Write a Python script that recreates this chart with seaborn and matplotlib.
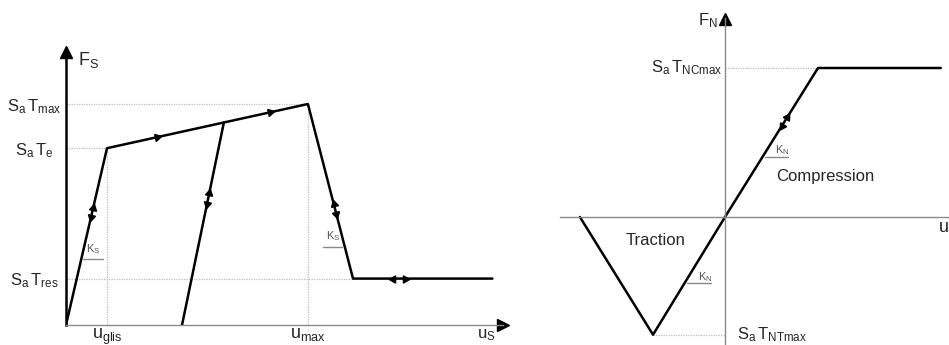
import numpy as np
import matplotlib
matplotlib.use("Agg")
import matplotlib.pyplot as plt
import seaborn as sns

# --- shear law (left), normalised so that S_a T_max = 1 ---
shear_u = [0.0, 1.0, 5.9, 7.0, 10.4]
shear_f = [0.0, 0.80, 1.0, 0.21, 0.21]
unload_u = [2.83, 3.85]
unload_f = [0.0, 0.916]
shear_levels = [1.0, 0.80, 0.21]
shear_level_labels = [r"$\mathrm{S_a\,T_{max}}$", r"$\mathrm{S_a\,T_e}$", r"$\mathrm{S_a\,T_{res}}$"]
shear_u_ticks = [1.0, 5.9]
shear_u_labels = [r"$\mathrm{u_{glis}}$", r"$\mathrm{u_{max}}$"]

# --- normal law (right), normalised so that S_a T_NCmax = 1 ---
normal_u = [-1.56, -0.774, 0.0, 1.0, 2.32]
normal_f = [0.0, -0.79, 0.0, 1.0, 1.0]

sns.set_style("white")
plt.rcParams["font.family"] = ["Liberation Sans", "DejaVu Sans"]
plt.rcParams["mathtext.fontset"] = "custom"
plt.rcParams["mathtext.rm"] = "Liberation Sans"
plt.rcParams["mathtext.it"] = "Liberation Sans:italic"

W, H = 949, 345
fig = plt.figure(figsize=(W / 100, H / 100), dpi=100)
fig.patch.set_facecolor("white")

GRID = dict(color="#bdbdbd", lw=0.9, ls=(0, (1, 1)), zorder=1)
CURVE = dict(color="black", lw=1.8, sort=False, estimator=None, legend=False)


def dir_arrow(ax, p0, p1, t, forward=True, ms=6):
    # small triangle on a segment, pointing along (or against) it
    p0, p1 = np.asarray(p0, float), np.asarray(p1, float)
    p = p0 + t * (p1 - p0)
    d = ax.transData.transform(p1) - ax.transData.transform(p0)
    ang = np.degrees(np.arctan2(d[1], d[0]))
    rot = ang - 90 if forward else ang + 90
    ax.plot(p[0], p[1], marker=(3, 0, rot), ms=ms, color="black", mec="black", zorder=5)


def slope_tag(ax, x, y, sub, seg):
    ax.text(x, y, rf"$\mathrm{{K_{sub}}}$", fontsize=8, color="#555555", ha="center", va="bottom")
    ax.plot(seg[0], seg[1], color="#888888", lw=1.0, zorder=2)


# ---------------- left panel ----------------
ax1 = fig.add_axes([66 / W, 20 / H, 437 / W, 272 / H])
ax1.set_xlim(0, 437 / 41)
ax1.set_ylim(0, 272 / 221)
sns.despine(ax=ax1)
ax1.spines["left"].set_color("black")
ax1.spines["left"].set_linewidth(1.8)
ax1.spines["bottom"].set_color("#8a8a8a")
ax1.spines["bottom"].set_linewidth(1.0)

# guide lines
ax1.plot([0, shear_u[2]], [shear_f[2]] * 2, **GRID)
ax1.plot([0, shear_u[1]], [shear_f[1]] * 2, **GRID)
ax1.plot([0, shear_u[3]], [shear_f[3]] * 2, **GRID)
ax1.plot([shear_u[1]] * 2, [0, shear_f[1]], **GRID)
ax1.plot([shear_u[2]] * 2, [0, shear_f[2]], **GRID)

sns.lineplot(x=shear_u, y=shear_f, ax=ax1, **CURVE)
sns.lineplot(x=unload_u, y=unload_f, ax=ax1, **CURVE)

p = list(zip(shear_u, shear_f))
dir_arrow(ax1, p[0], p[1], 0.66)
dir_arrow(ax1, p[0], p[1], 0.61, forward=False)
dir_arrow(ax1, p[1], p[2], 0.25)
dir_arrow(ax1, p[1], p[2], 0.81)
u = list(zip(unload_u, unload_f))
dir_arrow(ax1, u[0], u[1], 0.65)
dir_arrow(ax1, u[0], u[1], 0.60, forward=False)
dir_arrow(ax1, p[3], p[2], 0.43)
dir_arrow(ax1, p[3], p[2], 0.37, forward=False)
dir_arrow(ax1, p[3], p[4], 0.29, forward=False)
dir_arrow(ax1, p[3], p[4], 0.37)

# axis arrows
ax1.plot(0, 272 / 221 + 0.005, marker="^", ms=9, color="black", clip_on=False)
ax1.plot(437 / 41, 0, marker=">", ms=9, color="black", clip_on=False)

ax1.set_yticks(shear_levels, shear_level_labels, fontsize=12)
for lab in ax1.get_yticklabels():
    lab.set_ha("center")
ax1.tick_params(axis="y", length=0, pad=23)
ax1.set_xticks(shear_u_ticks, shear_u_labels, fontsize=13)
ax1.tick_params(axis="x", length=0, pad=1)

ax1.text(0.3, 272 / 221 - 0.03, r"$\mathrm{F_S}$", fontsize=13, ha="left", va="center")
ax1.text(10.25, -0.012, r"$\mathrm{u_S}$", fontsize=12, ha="center", va="top", clip_on=False)

slope_tag(ax1, 0.67, 0.31, "S", ([0.42, 0.90], [0.30, 0.30]))
slope_tag(ax1, 6.52, 0.37, "S", ([6.27, 6.73], [0.355, 0.355]))

# ---------------- right panel ----------------
ax2 = fig.add_axes([560 / W, 0, 389 / W, 327 / H])
ax2.set_xlim(-165 / 93, 224 / 93)
ax2.set_ylim(-128 / 149, 199 / 149)
for s in ["top", "right"]:
    ax2.spines[s].set_visible(False)
for s in ["left", "bottom"]:
    ax2.spines[s].set_position(("data", 0))
    ax2.spines[s].set_color("#8a8a8a")
    ax2.spines[s].set_linewidth(1.0)
ax2.set_xticks([])
ax2.set_yticks([])

ax2.plot([0, normal_u[3]], [normal_f[3]] * 2, **GRID)
ax2.plot([normal_u[1], 0], [normal_f[1]] * 2, **GRID)

sns.lineplot(x=normal_u, y=normal_f, ax=ax2, **CURVE)
q = list(zip(normal_u, normal_f))
dir_arrow(ax2, q[2], q[3], 0.67)
dir_arrow(ax2, q[2], q[3], 0.61, forward=False)

ax2.plot(0, 199 / 149 - 0.01, marker="^", ms=8, color="black", clip_on=False)
ax2.text(-0.08, 199 / 149 - 0.02, r"$\mathrm{F_N}$", fontsize=12, ha="right", va="center")
ax2.text(-0.03, normal_f[3], r"$\mathrm{S_a\,T_{NCmax}}$", fontsize=12, ha="right", va="center")
ax2.text(0.13, normal_f[1], r"$\mathrm{S_a\,T_{NTmax}}$", fontsize=12, ha="left", va="center")
ax2.text(-0.75, -0.16, "Traction", fontsize=12, ha="center", va="center")
ax2.text(1.08, 0.27, "Compression", fontsize=12, ha="center", va="center")
# the u_N label runs off the right edge in the original figure too
ax2.text(2.29, -0.08, r"$\mathrm{u_N}$", fontsize=13, ha="left", va="center", clip_on=False)

slope_tag(ax2, 0.62, 0.40, "N", ([0.43, 0.68], [0.40, 0.40]))
slope_tag(ax2, -0.215, -0.45, "N", ([-0.41, -0.15], [-0.445, -0.445]))

fig.savefig("out.png", dpi=100, facecolor="white")
